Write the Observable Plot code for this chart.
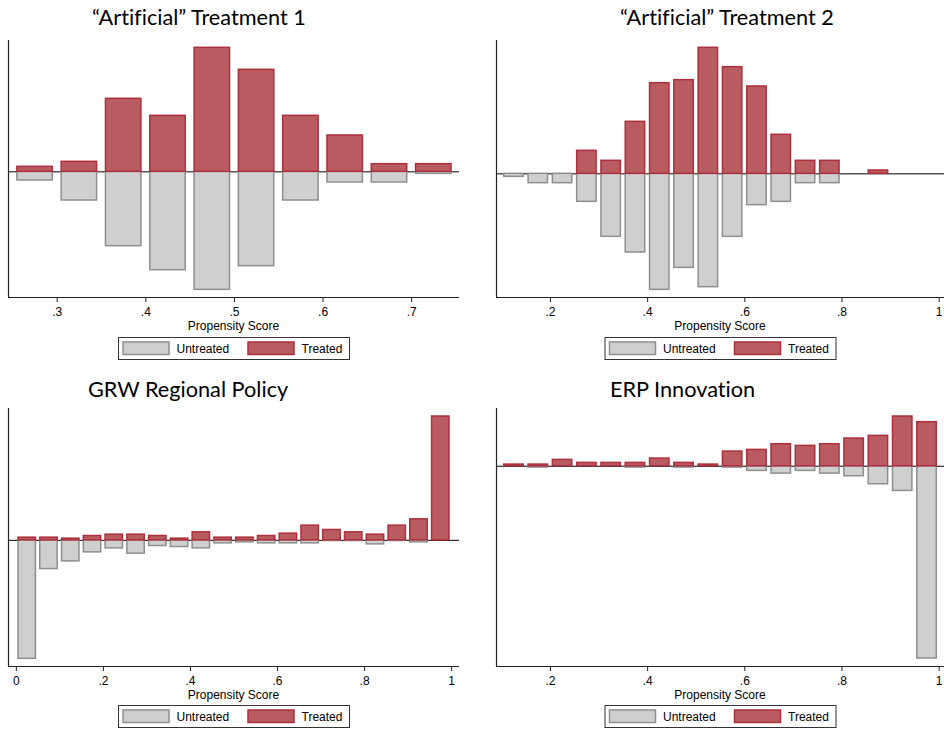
<!DOCTYPE html>
<html>
<head>
<meta charset="utf-8">
<script src="https://cdn.jsdelivr.net/npm/d3@7"></script>
<script src="https://cdn.jsdelivr.net/npm/@observablehq/plot@0.6"></script>
<style>
  html, body { margin: 0; padding: 0; background: #fff; }
  #root { position: relative; width: 944px; height: 730px; overflow: hidden; background: #fff; }
  .panel { position: absolute; }
  #overlay { position: absolute; left: 0; top: 0; pointer-events: none; }
</style>
</head>
<body>
<div id="root"></div>
<script>
// ---------- Data (arbitrary density units) ----------
const seriesNames = ["Untreated", "Treated"];

const p1Title = "“Artificial” Treatment 1";
const p1Ticks = [0.3, 0.4, 0.5, 0.6, 0.7];
const p1Centers = [0.275, 0.325, 0.375, 0.425, 0.475, 0.525, 0.575, 0.625, 0.675, 0.725];
const p1Treated = [15, 30, 219, 168, 372, 306, 168, 109, 23, 23];
const p1Untreated = [26, 86, 223, 295, 354, 283, 86, 32, 32, 6];

const p2Title = "“Artificial” Treatment 2";
const p2Ticks = [0.2, 0.4, 0.6, 0.8, 1];
const p2Centers = [0.125, 0.175, 0.225, 0.275, 0.325, 0.375, 0.425, 0.475, 0.525, 0.575, 0.625, 0.675, 0.725, 0.775, 0.825, 0.875];
const p2Treated = [0, 0, 0, 69, 39, 156, 272, 281, 378, 320, 262, 117, 39, 39, 0, 10];
const p2Untreated = [9, 28, 28, 84, 189, 236, 348, 282, 340, 189, 94, 84, 28, 28, 0, 0];

const p3Title = "GRW Regional Policy";
const p3Ticks = [0, 0.2, 0.4, 0.6, 0.8, 1];
const p3Centers = [0.025, 0.075, 0.125, 0.175, 0.225, 0.275, 0.325, 0.375, 0.425, 0.475, 0.525, 0.575, 0.625, 0.675, 0.725, 0.775, 0.825, 0.875, 0.925, 0.975];
const p3Treated = [8, 8, 5, 13, 17, 17, 13, 5, 24, 8, 8, 13, 20, 44, 31, 24, 17, 44, 63, 371];
const p3Untreated = [355, 86, 63, 36, 24, 40, 17, 20, 24, 9, 6, 9, 9, 9, 2, 2, 12, 2, 6, 0];

const p4Title = "ERP Innovation";
const p4Ticks = [0.2, 0.4, 0.6, 0.8, 1];
const p4Centers = [0.125, 0.175, 0.225, 0.275, 0.325, 0.375, 0.425, 0.475, 0.525, 0.575, 0.625, 0.675, 0.725, 0.775, 0.825, 0.875, 0.925, 0.975];
const p4Treated = [5, 5, 19, 10, 10, 10, 23, 10, 5, 44, 49, 66, 61, 66, 83, 91, 149, 132];
const p4Untreated = [0, 4, 0, 0, 0, 4, 0, 4, 0, 4, 14, 22, 14, 22, 30, 54, 74, 576];

const axisLabel = "Propensity Score";
const binHalfWidth = 0.02;

// ---------- Layout / style ----------
const C = {
  treatedFill: "#b85c62", treatedStroke: "#ad2f3b",
  untreatedFill: "#cfcfcf", untreatedStroke: "#8f8f8f",
  axis: "#222", zero: "#000"
};
const FONT = "'Liberation Sans', Arial, Helvetica, sans-serif";
const TITLE_FONT = "Lato, 'Open Sans', sans-serif";

const panels = [
  { title: p1Title, ticks: p1Ticks, centers: p1Centers, treated: p1Treated, untreated: p1Untreated,
    svgLeft: 0, plotLeft: 8, plotRight: 459, plotTop: 40, plotBottom: 297,
    xDomain: [0.245, 0.754], yDomain: [-377, 394], titleX: 92, titleBase: 25, labelBase: 330, legendTop: 337 },
  { title: p2Title, ticks: p2Ticks, centers: p2Centers, treated: p2Treated, untreated: p2Untreated,
    svgLeft: 472, plotLeft: 496, plotRight: 944, plotTop: 40, plotBottom: 297,
    xDomain: [0.089, 1.011], yDomain: [-371, 400], titleX: 620, titleBase: 25, labelBase: 330, legendTop: 337 },
  { title: p3Title, ticks: p3Ticks, centers: p3Centers, treated: p3Treated, untreated: p3Untreated,
    svgLeft: 0, plotLeft: 8, plotRight: 459, plotTop: 408, plotBottom: 666,
    xDomain: [-0.018, 1.018], yDomain: [-378, 395], titleX: 88, titleBase: 397, labelBase: 699, legendTop: 705 },
  { title: p4Title, ticks: p4Ticks, centers: p4Centers, treated: p4Treated, untreated: p4Untreated,
    svgLeft: 472, plotLeft: 496, plotRight: 944, plotTop: 408, plotBottom: 666,
    xDomain: [0.089, 1.011], yDomain: [-600, 173], titleX: 610, titleBase: 397, labelBase: 699, legendTop: 705 }
];

const fmt = d => d === 0 ? "0" : d === 1 ? "1" : d3.format(".1f")(d).replace(/^0/, "");

const root = document.getElementById("root");

for (const p of panels) {
  const rows = p.centers.map((c, i) => ({ c, t: p.treated[i], u: p.untreated[i] }));
  const padTop = 10, padBottom = 30;
  const width = 472;
  const height = p.plotBottom - p.plotTop + padTop + padBottom;
  const chart = Plot.plot({
    width, height,
    marginLeft: p.plotLeft - p.svgLeft,
    marginRight: p.svgLeft + width - p.plotRight,
    marginTop: padTop,
    marginBottom: padBottom,
    x: { domain: p.xDomain },
    y: { domain: p.yDomain, axis: null },
    style: { fontFamily: FONT, fontSize: "12px", color: "#000", background: "transparent", overflow: "visible" },
    marks: [
      Plot.ruleY([0], { stroke: C.zero, strokeWidth: 1 }),
      Plot.rect(rows.filter(d => d.u > 0), {
        x1: d => d.c - binHalfWidth, x2: d => d.c + binHalfWidth, y1: 0, y2: d => -d.u,
        fill: C.untreatedFill, stroke: C.untreatedStroke, strokeWidth: 1.5
      }),
      Plot.rect(rows.filter(d => d.t > 0), {
        x1: d => d.c - binHalfWidth, x2: d => d.c + binHalfWidth, y1: 0, y2: d => d.t,
        fill: C.treatedFill, stroke: C.treatedStroke, strokeWidth: 1.5
      }),
      Plot.ruleX([p.xDomain[0]], { stroke: C.axis, strokeWidth: 1.2 }),
      Plot.ruleY([p.yDomain[0]], { stroke: C.axis, strokeWidth: 1.2 }),
      Plot.axisX({ ticks: p.ticks, tickFormat: fmt, tickSize: 5, tickPadding: 5, label: null, fontSize: 12, stroke: C.axis })
    ]
  });
  chart.classList.add("panel");
  chart.style.left = p.svgLeft + "px";
  chart.style.top = (p.plotTop - padTop) + "px";
  root.appendChild(chart);
}

// ---------- Overlay: titles, axis labels, legends ----------
const ov = d3.select(root).append("svg")
  .attr("id", "overlay").attr("width", 944).attr("height", 730);

for (const p of panels) {
  ov.append("text")
    .attr("x", p.titleX).attr("y", p.titleBase)
    .attr("font-family", TITLE_FONT).attr("font-size", 21.7)
    .style("font-variant-ligatures", "none")
    .attr("fill", "#000").text(p.title);

  const cx = (p.plotLeft + p.plotRight) / 2;
  ov.append("text")
    .attr("x", cx).attr("y", p.labelBase)
    .attr("text-anchor", "middle")
    .attr("font-family", FONT).attr("font-size", 12)
    .attr("fill", "#000").text(axisLabel);

  const lw = 231, lh = 22;
  const lx = cx - lw / 2, ly = p.legendTop;
  const g = ov.append("g").attr("transform", `translate(${lx},${ly})`);
  g.append("rect").attr("x", 0.5).attr("y", 0.5).attr("width", lw).attr("height", lh)
    .attr("fill", "#fff").attr("stroke", "#333").attr("stroke-width", 1);
  const items = [
    { name: seriesNames[0], fill: C.untreatedFill, stroke: C.untreatedStroke, x: 5 },
    { name: seriesNames[1], fill: C.treatedFill, stroke: C.treatedStroke, x: 130 }
  ];
  for (const it of items) {
    g.append("rect").attr("x", it.x).attr("y", 5).attr("width", 46).attr("height", 12.5)
      .attr("fill", it.fill).attr("stroke", it.stroke).attr("stroke-width", 1.5);
    g.append("text").attr("x", it.x + 53.5).attr("y", 16)
      .attr("font-family", FONT).attr("font-size", 12).attr("fill", "#000").text(it.name);
  }
}
</script>
</body>
</html>
